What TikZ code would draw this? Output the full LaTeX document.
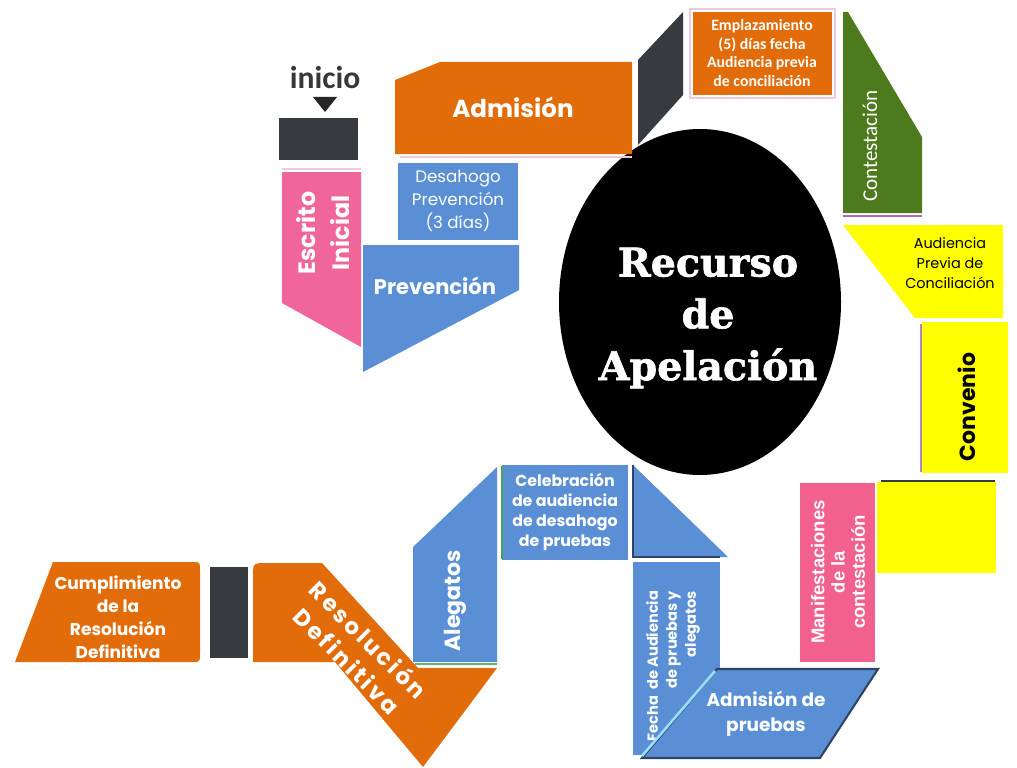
\documentclass[tikz,border=0pt]{standalone}
\usepackage{fontspec}
\setmainfont{Carlito}
\newfontfamily\pop{Poppins}
\newfontfamily\popsp{Poppins}[LetterSpace=12]
\newfontfamily\arialf{Liberation Sans}
\newfontfamily\serifb{DejaVu Serif}[BoldFeatures={FakeBold=1.6}]
\newcommand\myfs[2]{\fontsize{#1pt}{#2pt}\selectfont}
\definecolor{orng}{HTML}{E36C0A}
\definecolor{blu}{HTML}{5A8FD6}
\definecolor{pnk}{HTML}{F0669B}
\definecolor{pnkb}{HTML}{F2608E}
\definecolor{grn}{HTML}{4D7A1C}
\definecolor{yel}{HTML}{FFFF00}
\definecolor{drk}{HTML}{373B40}
\definecolor{edgep}{HTML}{F1C9DF}
\definecolor{edged}{HTML}{2E4566}
\tikzset{
  lbl/.style={inner sep=0pt, align=center, text=white},
  lblk/.style={inner sep=0pt, align=center, text=black},
}
\begin{document}
\begin{tikzpicture}[x=0.02cm,y=-0.02cm]
\useasboundingbox[fill=white] (0,0) rectangle (1017,767);

% central ellipse
\fill[black] (700,302) ellipse [x radius=141, y radius=173];
\node[lbl, font=\serifb\bfseries\myfs{22.5}{29.5}] (title) at (708,318) {Recurso\\de\\Apelación};

% inicio
\node[inner sep=0pt, text=black!78, font=\bfseries\myfs{18}{20}] (inicio) at (325,78) {inicio};
\fill[black!85] (313,97) -- (337,97) -- (325,112) -- cycle;
\fill[drk] (279,118) rectangle (358,160);

% Escrito inicial
\draw[edgep, line width=1pt] (282,169) -- (361,169);
\fill[pnk] (282,172) -- (361,172) -- (361,347) -- (282,303) -- cycle;
\node[lbl, rotate=90, font=\pop\bfseries\myfs{13.5}{19}] (escrito) at (323,233) {Escrito\\Inicial};

% Desahogo
\fill[blu] (398,163) rectangle (518,240);
\node[lbl, font=\pop\myfs{9.5}{13}] (desahogo) at (458,201) {Desahogo\\Prevención\\(3 días)};

% Prevencion
\fill[blu] (363,245) -- (519,245) -- (519,290) -- (363,372) -- cycle;
\node[lbl, font=\pop\bfseries\myfs{12}{14}] (prev) at (435,286) {Prevención};

% Admision
\fill[orng] (395,80) -- (440,62) -- (632,62) -- (632,154) -- (395,154) -- cycle;
\draw[edgep, line width=1pt] (400,157) -- (632,157);
\node[lbl, font=\pop\bfseries\myfs{14}{16}] (admision) at (513,107) {Admisión};

% dark parallelogram
\fill[drk] (638,60) -- (683,12) -- (683,95) -- (638,145) -- cycle;

% Emplazamiento
\fill[orng] (693,12) rectangle (832,95);
\draw[edgep, line width=0.6pt] (690,9) rectangle (835,98);
\node[lbl, font=\bfseries\myfs{9}{10.8}] (empl) at (762,53) {Emplazamiento\\(5) días fecha\\Audiencia previa\\de conciliación};

% Contestacion
\fill[grn] (843,12) -- (848,12) -- (922,137) -- (922,213) -- (843,213) -- cycle;
\draw[violet!60, line width=1.2pt] (843,216) -- (922,216);
\node[lbl, rotate=90, font=\myfs{12}{14}] (contest) at (870,146) {Contestación};

% Audiencia previa de conciliacion
\fill[yel] (843,225) -- (1003,225) -- (1003,318) -- (915,318) -- cycle;
\node[lblk, font=\pop\myfs{8.2}{11.5}] (audprev) at (950,263) {Audiencia\\Previa de\\Conciliación};

% Convenio
\fill[yel] (922,322) rectangle (1008,473);
\draw[violet!50, line width=1pt] (921,324) -- (921,472);
\node[lblk, rotate=90, font=\pop\bfseries\myfs{12.5}{14}] (convenio) at (967,407) {Convenio};

% yellow box
\fill[yel] (877,482) rectangle (996,573);
\draw[drk, line width=1.2pt] (881,481) -- (995,481);

% Manifestaciones
\fill[pnkb] (800,483) rectangle (875,662);
\node[lbl, rotate=90, font=\arialf\bfseries\myfs{10.5}{11.5}] (manif) at (838,572) {Manifestaciones\\de la\\contestación};

% triangle
\fill[blu] (633,465) -- (633,557) -- (728,557) -- cycle;
\draw[edged, line width=1pt] (633,465) -- (633,557) -- (720,557);

% Fecha de audiencia
\fill[blu] (633,562) rectangle (720,755);
\node[lbl, rotate=90, align=right, font=\pop\bfseries\myfs{8.3}{10.8}] (fecha) at (673,666) {Fecha~ de Audiencia\\de pruebas y\\alegatos};

% Admision de pruebas
\fill[blu, draw=edged, line width=1.2pt] (717,669) -- (878,669) -- (820,758) -- (642,758) -- cycle;
\draw[cyan!40, line width=1.5pt] (642,756) -- (715,671);
\node[lbl, font=\pop\bfseries\myfs{10.5}{14}] (admpr) at (766,714) {Admisión de\\pruebas};

% Celebracion
\fill[blu] (502,465) rectangle (628,560);
\draw[green!50!black!70, line width=1pt] (502,466) -- (502,559);
\node[lbl, font=\pop\bfseries\myfs{9}{11.3}] (celeb) at (565,512) {Celebración\\de audiencia\\de desahogo\\de pruebas};

% Alegatos
\fill[blu] (413,547) -- (497,467) -- (497,662) -- (413,662) -- cycle;
\draw[green!50!black!60, line width=1pt] (415,664) -- (497,664);
\node[lbl, rotate=90, font=\pop\bfseries\myfs{12.5}{14}] (alegatos) at (455,601) {Alegatos};

% Resolucion definitiva
\fill[orng] (335,662) -- (253,662) -- (253,577) .. controls (253,563) .. (267,563) -- (322,563) -- (418,668) -- (497,668) -- (423,767) -- cycle;
\node[lbl, rotate=-45, font=\popsp\bfseries\myfs{13}{17}] (resol) at (358,650) {Resolución\\Definitiva};

% dark bar
\fill[drk] (210,567) rectangle (248,658);

% Cumplimiento
\fill[orng] (15,662) -- (53,562) -- (192,562) .. controls (200,562) .. (200,570) -- (200,654) .. controls (200,662) .. (192,662) -- cycle;
\node[lbl, font=\pop\bfseries\myfs{9.7}{13}] (cumpl) at (118,617) {Cumplimiento\\de la\\Resolución\\Definitiva};
\end{tikzpicture}
\end{document}
